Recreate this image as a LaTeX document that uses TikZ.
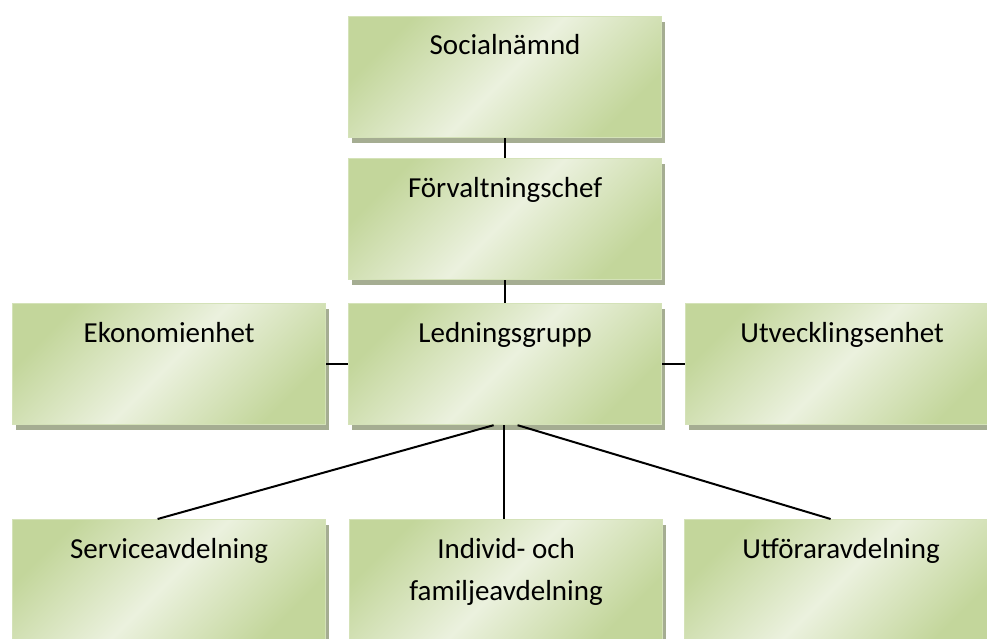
\documentclass[tikz,border=0pt]{standalone}
\usepackage{fontspec}
\setmainfont{Carlito}
\usetikzlibrary{shadows}
\definecolor{gdark}{HTML}{C3D69B}
\definecolor{glight}{HTML}{EBF1DE}
\definecolor{gborder}{HTML}{D4E2B8}
\definecolor{shcol}{HTML}{A5AD92}
\tikzset{
  orgbox/.style={rectangle, minimum width=313pt, minimum height=121pt, inner sep=0pt,
    anchor=north west, draw=gborder, line width=1.2pt,
    top color=gdark, bottom color=gdark, middle color=glight, shading angle=45,
    drop shadow={shadow xshift=3pt, shadow yshift=-5pt, fill=shcol, opacity=1}},
  lbl/.style={anchor=base, font=\fontsize{29}{42}\selectfont, align=center, inner sep=0pt},
  conn/.style={draw=black, line width=2pt}
}
\begin{document}
\begin{tikzpicture}[x=1pt,y=-1pt]
\useasboundingbox (0,0) rectangle (987,639);
\clip (0,0) rectangle (987,639);
\node[orgbox] (s1) at (348,16) {};
\node[orgbox] (s2) at (348,158) {};
\node[orgbox] (lg) at (348,303) {};
\node[orgbox] (ek) at (12,303) {};
\node[orgbox] (ut) at (685,303) {};
\node[orgbox] (sa) at (12,519) {};
\node[orgbox] (ind) at (349,519) {};
\node[orgbox] (uf) at (684,519) {};
\node[lbl] (t1) at ([yshift=-39pt]s1.north) {Socialnämnd};
\node[lbl] (t2) at ([yshift=-39pt]s2.north) {Förvaltningschef};
\node[lbl] (t3) at ([yshift=-39pt]lg.north) {Ledningsgrupp};
\node[lbl] (t4) at ([yshift=-39pt]ek.north) {Ekonomienhet};
\node[lbl] (t5) at ([yshift=-39pt]ut.north) {Utvecklingsenhet};
\node[lbl] (t6) at ([yshift=-39pt]sa.north) {Serviceavdelning};
\node[lbl] (t7) at ([yshift=-81pt]ind.north) {Individ- och\\familjeavdelning};
\node[lbl] (t8) at ([yshift=-39pt]uf.north) {Utföraravdelning};
\draw[conn] (s1.south) -- (s2.north);
\draw[conn] (s2.south) -- (lg.north);
\draw[conn] (ek.east) -- (lg.west);
\draw[conn] (lg.east) -- (ut.west);
\draw[conn] ([xshift=-11.5pt]lg.south) -- ([xshift=-11.5pt]sa.north);
\draw[conn] ([xshift=-1.5pt]lg.south) -- ([xshift=-2.5pt]ind.north);
\draw[conn] ([xshift=12.5pt]lg.south) -- ([xshift=-10.5pt]uf.north);
\end{tikzpicture}
\end{document}
